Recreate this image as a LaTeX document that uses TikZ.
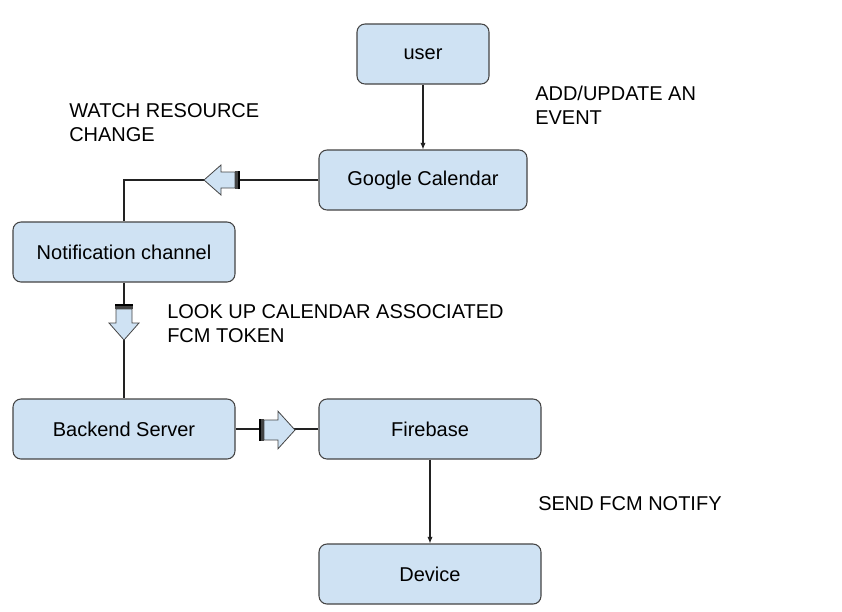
\documentclass[tikz,border=0pt]{standalone}
\usepackage{fontspec}
\setmainfont{Liberation Sans}
\usetikzlibrary{arrows.meta}

\definecolor{boxblue}{HTML}{CFE2F3}
\definecolor{boxline}{HTML}{444444}
\definecolor{barline}{HTML}{222222}

\tikzset{
  block/.style={draw=boxline,fill=boxblue,rounded corners=6pt,line width=0.8pt,
    minimum height=45pt,inner sep=0pt},
  link/.style={draw=barline,line width=0.8pt},
  note/.style={anchor=base west,align=left,inner sep=0pt},
  fatarrow/.pic={
    \fill[boxblue] (0,0) -- (-17,-15) -- (-17,-8) -- (-31,-8) -- (-31,8) -- (-17,8) -- (-17,15) -- cycle;
    \draw[boxline,line width=0.6pt] (0,0) -- (-17,-15) -- (-17,-8) -- (-31,-8) -- (-31,8) -- (-17,8) -- (-17,15) -- cycle;
    \fill[boxline] (-35,-9) rectangle (-31,9);
    \draw[black,line width=1pt] (-35,-9) -- (-35,9);
  }
}

\begin{document}
\begin{tikzpicture}[x=0.75pt,y=-0.75pt,font=\fontsize{15}{18}\selectfont]

\useasboundingbox (0,0) rectangle (842,611);

% boxes
\node[block,minimum width=99pt] (user) at (423,54) {user};
\node[block,minimum width=156pt] (gcal) at (423,180) {Google Calendar};
\node[block,minimum width=166.5pt] (notif) at (124,252) {Notification channel};
\node[block,minimum width=166.5pt] (backend) at (124,429) {Backend Server};
\node[block,minimum width=166.5pt] (firebase) at (430,429) {Firebase};
\node[block,minimum width=166.5pt] (device) at (430,574) {Device};

% connectors
\draw[link,-{Latex[length=5pt,width=4pt]}] (user) -- (gcal);
\draw[link] (gcal.west) -| (notif.north);
\draw[link] (notif) -- (backend);
\draw[link] (backend) -- (firebase);
\draw[link,-{Latex[length=5pt,width=4pt]}] (firebase) -- (device);

% block arrows
\pic[rotate=180] at (204,180) {fatarrow};
\pic[rotate=-90] at (124,340) {fatarrow};
\pic[yscale=1.25] at (295,430) {fatarrow};

% labels (base = last line)
\node[note] (watch) at (69,141) {WATCH RESOURCE\\CHANGE};
\node[note] (addev) at (535,124) {ADD/UPDATE AN\\EVENT};
\node[note] (lookup) at (167,342) {LOOK UP CALENDAR ASSOCIATED\\FCM TOKEN};
\node[note] (sendfcm) at (538,510) {SEND FCM NOTIFY};

\end{tikzpicture}
\end{document}
